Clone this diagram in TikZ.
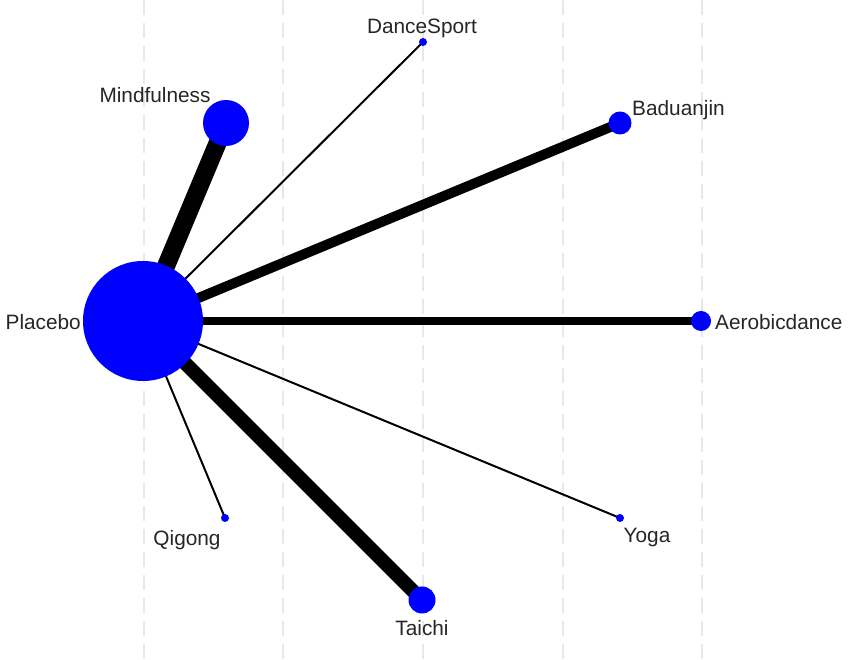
\documentclass[tikz,border=0pt]{standalone}
\usepackage{fontspec}
\setmainfont{Liberation Sans}
\usetikzlibrary{backgrounds}
\begin{document}
\begin{tikzpicture}[x=1pt,y=1pt,
  trt/.style={circle,fill=blue,draw=none,inner sep=0pt},
  lbl/.style={font=\fontsize{20.8}{22}\selectfont,inner sep=0pt,text=black!85},
  edge/.style={draw=black,line cap=butt},
  grid/.style={draw=black!9,line width=1.5pt,dash pattern=on 15pt off 8pt}]
\useasboundingbox (0,0) rectangle (850,660);
% treatment nodes
\node[trt,minimum size=120pt] (pla) at (143,339) {};
\node[trt,minimum size=46pt] (min) at (226,537) {};
\node[trt,minimum size=8pt] (dan) at (423,618) {};
\node[trt,minimum size=23pt] (bad) at (620,537) {};
\node[trt,minimum size=20pt] (aer) at (701,339) {};
\node[trt,minimum size=8pt] (qig) at (225,142) {};
\node[trt,minimum size=8pt] (yog) at (620,142) {};
\node[trt,minimum size=27pt] (tai) at (422,60) {};
% labels
\node[lbl,anchor=east] (lpla) at (81,338) {Placebo};
\node[lbl] (lmin) at (155,565) {Mindfulness};
\node[lbl] (ldan) at (422,632) {DanceSport};
\node[lbl,anchor=west] (lbad) at (632,550) {Baduanjin};
\node[lbl,anchor=west] (laer) at (715,338) {Aerobicdance};
\node[lbl] (lqig) at (187,120) {Qigong};
\node[lbl] (lyog) at (647,122) {Yoga};
\node[lbl] (ltai) at (422,32) {Taichi};
% background, grid and edges
\begin{pgfonlayer}{background}
\fill[white] (0,0) rectangle (850,660);
\foreach \gx in {144,283,423,563,702} \draw[grid] (\gx,660) -- (\gx,0);
\draw[edge,line width=18pt] (pla.center) -- (min.center);
\draw[edge,line width=2pt] (pla.center) -- (dan.center);
\draw[edge,line width=10pt] (pla.center) -- (bad.center);
\draw[edge,line width=8pt] (pla.center) -- (aer.center);
\draw[edge,line width=2pt] (pla.center) -- (qig.center);
\draw[edge,line width=2pt] (pla.center) -- (yog.center);
\draw[edge,line width=14pt] (pla.center) -- (tai.center);
\end{pgfonlayer}
\end{tikzpicture}
\end{document}
